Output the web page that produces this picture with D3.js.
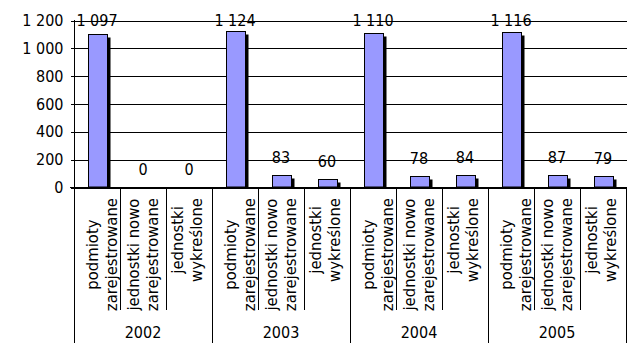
<!DOCTYPE html>
<html><head><meta charset="utf-8">
<script src="https://cdn.jsdelivr.net/npm/d3@7"></script>
<style>
body{margin:0;background:#fff;}
svg text{font-family:"DejaVu Sans Condensed","DejaVu Sans",sans-serif;font-stretch:condensed;font-size:16px;fill:#000;}
svg text.cat{font-size:16.5px;}
</style></head>
<body><svg id="c" width="644" height="353"></svg>
<script>
// ---- data ----
const years = ["2002", "2003", "2004", "2005"];
const subCategories = [["podmioty", "zarejestrowane"], ["jednostki nowo", "zarejestrowane"], ["jednostki", "wykreślone"]];
const podmiotyZarejestrowane = [1097, 1124, 1110, 1116];
const jednostkiNowoZarejestrowane = [0, 83, 78, 87];
const jednostkiWykreslone = [0, 60, 84, 79];
const yTicks = [0, 200, 400, 600, 800, 1000, 1200];

(function () {
// ---- build rows ----
const seriesList = [podmiotyZarejestrowane, jednostkiNowoZarejestrowane, jednostkiWykreslone];
const rows = [];
years.forEach((yr, gi) => {
  subCategories.forEach((lab, si) => {
    rows.push({key: gi * 3 + si, year: yr, sub: si, lines: lab, value: seriesList[si][gi]});
  });
});

const svg = d3.select("#c");
const pLeft = 74, pRight = 626, pTop = 20, pBase = 187, pBottom = 343, subBottom = 310;
const x = d3.scaleBand().domain(rows.map(d => d.key)).range([pLeft, pRight]).padding(0);
const y = d3.scaleLinear().domain([0, 1200]).range([pBase, pTop]);
const fmt = d3.formatLocale({decimal: ",", thousands: " ", grouping: [3], currency: ["", ""]}).format(",d");

// gridlines
const grid = svg.append("g").attr("transform", `translate(${pLeft + 0.5},0.5)`)
  .call(d3.axisLeft(y).tickValues(yTicks).tickSize(-(pRight - pLeft)).tickFormat(""));
grid.select(".domain").remove();
grid.selectAll("line").attr("stroke", "#000").attr("shape-rendering", "crispEdges");

// y axis ticks + labels
const ya = svg.append("g").attr("transform", `translate(${pLeft + 0.5},0.5)`)
  .call(d3.axisLeft(y).tickValues(yTicks).tickSize(4).tickPadding(7).tickFormat(fmt));
ya.select(".domain").remove();
ya.selectAll("line").attr("stroke", "#000").attr("shape-rendering", "crispEdges");
ya.attr("font-size", null).attr("font-family", null);

// bars
const bw = 19;
const bars = svg.append("g");
rows.filter(d => d.value > 0).forEach(d => {
  const cx = x(d.key) + x.bandwidth() / 2;
  const bx = Math.round(cx - bw / 2) + 0.5;
  const ty = Math.round(y(d.value)) + 0.5;
  bars.append("rect").attr("x", bx + 3).attr("y", ty + 3).attr("width", bw)
    .attr("height", Math.max(0, y(0) - ty - 3)).attr("fill", "#000");
  bars.append("rect").attr("x", bx).attr("y", ty).attr("width", bw)
    .attr("height", Math.max(0, y(0) - ty)).attr("fill", "#9999FF")
    .attr("stroke", "#000").attr("stroke-width", 1);
});

// value labels
svg.append("g").selectAll("text").data(rows).join("text")
  .attr("x", d => x(d.key) + x.bandwidth() / 2)
  .attr("y", d => Math.max(y(d.value) - 12, pTop + 6))
  .attr("text-anchor", "middle")
  .text(d => fmt(d.value));

// axes lines
const ax = svg.append("g").attr("stroke", "#000").attr("shape-rendering", "crispEdges");
ax.append("line").attr("x1", pLeft - 4).attr("x2", pRight).attr("y1", pBase + 0.5).attr("y2", pBase + 0.5);
ax.append("line").attr("x1", pLeft + 0.5).attr("x2", pLeft + 0.5).attr("y1", pTop).attr("y2", pBottom);
for (let i = 1; i <= rows.length; i++) {
  const xx = Math.round(pLeft + i * x.bandwidth()) + 0.5;
  const isGroup = i % 3 === 0;
  ax.append("line").attr("x1", xx).attr("x2", xx).attr("y1", pBase).attr("y2", isGroup ? pBottom : subBottom);
}

// rotated category labels
const subShift = [1, -4, -6];
const lg = svg.append("g");
rows.forEach(d => {
  const cx = x(d.key) + x.bandwidth() / 2;
  const g = lg.append("g");
  const texts = d.lines.map(ln => g.append("text").attr("class", "cat").text(ln).attr("text-anchor", "middle"));
  const maxLen = d3.max(texts, t => t.node().getComputedTextLength());
  const cy = 198 + maxLen / 2;
  texts.forEach((t, k) => {
    const bx = cx + subShift[d.sub] + k * 18.5;
    t.attr("transform", `translate(${bx},${cy}) rotate(-90)`);
  });
});

// year labels
svg.append("g").selectAll("text").data(years).join("text")
  .attr("x", (d, i) => (x(i * 3) + x(i * 3 + 2) + x.bandwidth()) / 2)
  .attr("y", 338)
  .attr("text-anchor", "middle")
  .text(d => d);
})();
</script></body></html>
